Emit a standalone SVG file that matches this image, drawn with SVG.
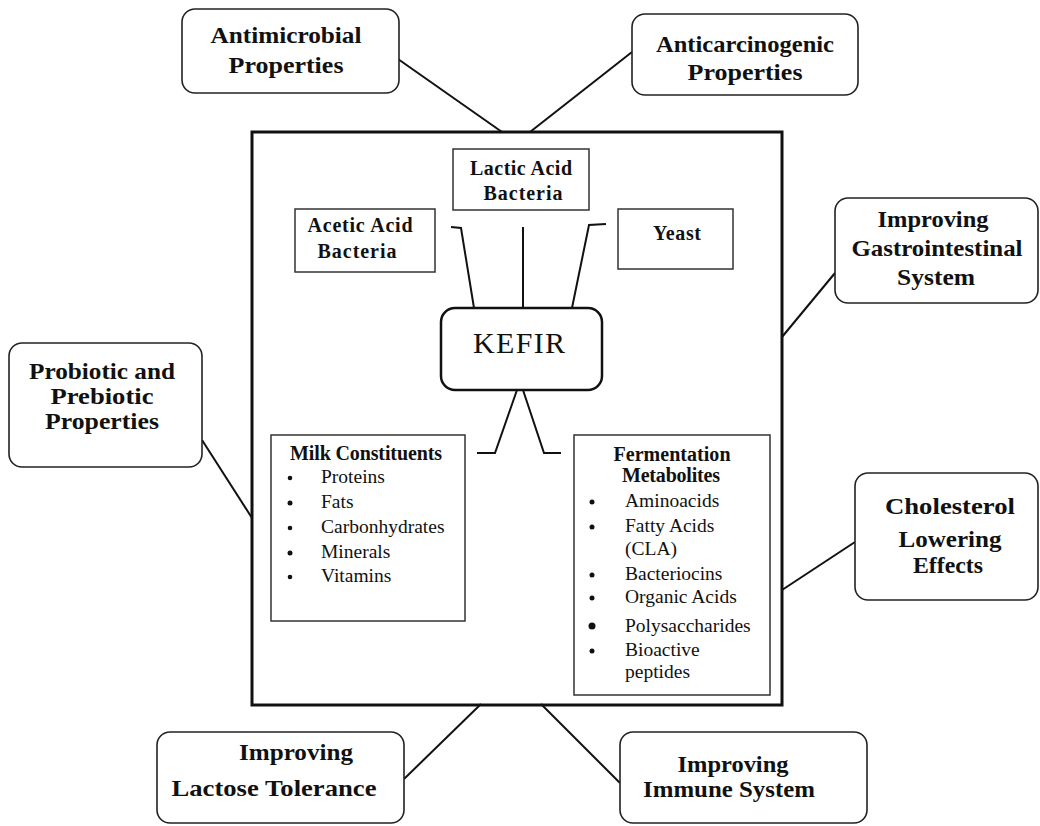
<svg xmlns="http://www.w3.org/2000/svg" width="1040" height="826" viewBox="0 0 1040 826">
<style>
.ob{fill:#fff;stroke:#222;stroke-width:1.6}
.ib{fill:#fff;stroke:#333;stroke-width:1.5}
.ol{font-family:"Liberation Serif","Times New Roman",serif;font-weight:bold;font-size:23px;fill:#111;text-anchor:middle}
.il{font-family:"Liberation Serif","Times New Roman",serif;font-weight:bold;font-size:20px;fill:#111;text-anchor:middle}
.li{font-family:"Liberation Serif","Times New Roman",serif;font-size:19.5px;fill:#111}
.cn{fill:none;stroke:#111;stroke-width:2}
.bu{fill:#111}
</style>
<rect width="1040" height="826" fill="#fff"/>
<g id="connectors">
<line class="cn" x1="398" y1="59" x2="502" y2="132"/>
<line class="cn" x1="632" y1="52" x2="530" y2="132"/>
<line class="cn" x1="202" y1="440" x2="252" y2="518"/>
<line class="cn" x1="835" y1="273" x2="782" y2="337"/>
<line class="cn" x1="855" y1="542" x2="782" y2="590"/>
<line class="cn" x1="481" y1="704" x2="404" y2="779"/>
<line class="cn" x1="541" y1="704" x2="620" y2="783"/>
<polyline class="cn" points="451,227 461,228 474,308"/>
<line class="cn" x1="523" y1="227" x2="523" y2="308"/>
<polyline class="cn" points="606,224 589,225 572,308"/>
<polyline class="cn" points="517,390 495,453 477,453"/>
<polyline class="cn" points="523,390 544,453 561,453"/>
</g>
<g id="main-box"><rect x="252" y="132" width="530" height="573" fill="none" stroke="#111" stroke-width="3"/></g>
<g id="antimicrobial">
<rect class="ob" x="182" y="9" width="217" height="84" rx="13"/>
<text class="ol" x="286" y="43" textLength="151" lengthAdjust="spacingAndGlyphs">Antimicrobial</text>
<text class="ol" x="286" y="73" textLength="115" lengthAdjust="spacingAndGlyphs">Properties</text>
</g>
<g id="anticarcinogenic">
<rect class="ob" x="632" y="14" width="226" height="81" rx="13"/>
<text class="ol" x="745" y="52" textLength="178" lengthAdjust="spacingAndGlyphs">Anticarcinogenic</text>
<text class="ol" x="745" y="80" textLength="115" lengthAdjust="spacingAndGlyphs">Properties</text>
</g>
<g id="probiotic">
<rect class="ob" x="9" y="343" width="193" height="124" rx="13"/>
<text class="ol" x="102" y="379" textLength="146" lengthAdjust="spacingAndGlyphs">Probiotic and</text>
<text class="ol" x="102" y="404" textLength="103" lengthAdjust="spacingAndGlyphs">Prebiotic</text>
<text class="ol" x="102" y="429" textLength="114" lengthAdjust="spacingAndGlyphs">Properties</text>
</g>
<g id="gastrointestinal">
<rect class="ob" x="835" y="198" width="203" height="105" rx="13"/>
<text class="ol" x="933" y="227" textLength="111" lengthAdjust="spacingAndGlyphs">Improving</text>
<text class="ol" x="937" y="256" textLength="171" lengthAdjust="spacingAndGlyphs">Gastrointestinal</text>
<text class="ol" x="936" y="285" textLength="78" lengthAdjust="spacingAndGlyphs">System</text>
</g>
<g id="cholesterol">
<rect class="ob" x="855" y="473" width="183" height="127" rx="13"/>
<text class="ol" x="950" y="514" textLength="130" lengthAdjust="spacingAndGlyphs">Cholesterol</text>
<text class="ol" x="950" y="547" textLength="103" lengthAdjust="spacingAndGlyphs">Lowering</text>
<text class="ol" x="948" y="573" textLength="70" lengthAdjust="spacingAndGlyphs">Effects</text>
</g>
<g id="lactose">
<rect class="ob" x="157" y="732" width="247" height="91" rx="13"/>
<text class="ol" x="296" y="760" textLength="114" lengthAdjust="spacingAndGlyphs">Improving</text>
<text class="ol" x="274" y="796" textLength="205" lengthAdjust="spacingAndGlyphs">Lactose Tolerance</text>
</g>
<g id="immune">
<rect class="ob" x="620" y="732" width="247" height="91" rx="13"/>
<text class="ol" x="733" y="772" textLength="111" lengthAdjust="spacingAndGlyphs">Improving</text>
<text class="ol" x="729" y="797" textLength="172" lengthAdjust="spacingAndGlyphs">Immune System</text>
</g>
<g id="lactic">
<rect class="ib" x="453" y="149" width="136" height="61"/>
<text class="il" x="521" y="175" textLength="102">Lactic Acid</text>
<text class="il" x="523" y="200" textLength="79">Bacteria</text>
</g>
<g id="acetic">
<rect class="ib" x="295" y="209" width="140" height="63"/>
<text class="il" x="360" y="232" textLength="105">Acetic Acid</text>
<text class="il" x="357" y="258" textLength="79">Bacteria</text>
</g>
<g id="yeast">
<rect class="ib" x="618" y="209" width="115" height="60"/>
<text class="il" x="677" y="240" textLength="48">Yeast</text>
</g>
<g id="kefir">
<rect x="441" y="308" width="161" height="82" rx="14" fill="#fff" stroke="#111" stroke-width="2.5"/>
<text x="519" y="353" font-family="'Liberation Serif','Times New Roman',serif" font-size="30" fill="#111" text-anchor="middle" textLength="92">KEFIR</text>
</g>
<g id="milk">
<rect class="ib" x="271" y="435" width="194" height="186"/>
<text class="il" x="366" y="460" textLength="152">Milk Constituents</text>
<circle class="bu" cx="290" cy="478" r="2.3"/><text class="li" x="321" y="483">Proteins</text>
<circle class="bu" cx="290" cy="503" r="2.5"/><text class="li" x="321" y="508">Fats</text>
<circle class="bu" cx="290" cy="528" r="2.3"/><text class="li" x="321" y="533">Carbonhydrates</text>
<circle class="bu" cx="290" cy="553" r="2.5"/><text class="li" x="321" y="558">Minerals</text>
<circle class="bu" cx="290" cy="577" r="2.3"/><text class="li" x="321" y="582">Vitamins</text>
</g>
<g id="fermentation">
<rect class="ib" x="574" y="435" width="196" height="260"/>
<text class="il" x="672" y="461" textLength="117">Fermentation</text>
<text class="il" x="671" y="482" textLength="98">Metabolites</text>
<circle class="bu" cx="592" cy="502" r="2.5"/><text class="li" x="625" y="507">Aminoacids</text>
<circle class="bu" cx="592" cy="527" r="2.5"/><text class="li" x="625" y="532">Fatty Acids</text>
<text class="li" x="625" y="555">(CLA)</text>
<circle class="bu" cx="592" cy="575" r="2.5"/><text class="li" x="625" y="580">Bacteriocins</text>
<circle class="bu" cx="592" cy="598" r="2.5"/><text class="li" x="625" y="603">Organic Acids</text>
<circle class="bu" cx="592" cy="626" r="3.5"/><text class="li" x="625" y="632">Polysaccharides</text>
<circle class="bu" cx="592" cy="651" r="2.5"/><text class="li" x="625" y="656">Bioactive</text>
<text class="li" x="625" y="678">peptides</text>
</g>
</svg>
